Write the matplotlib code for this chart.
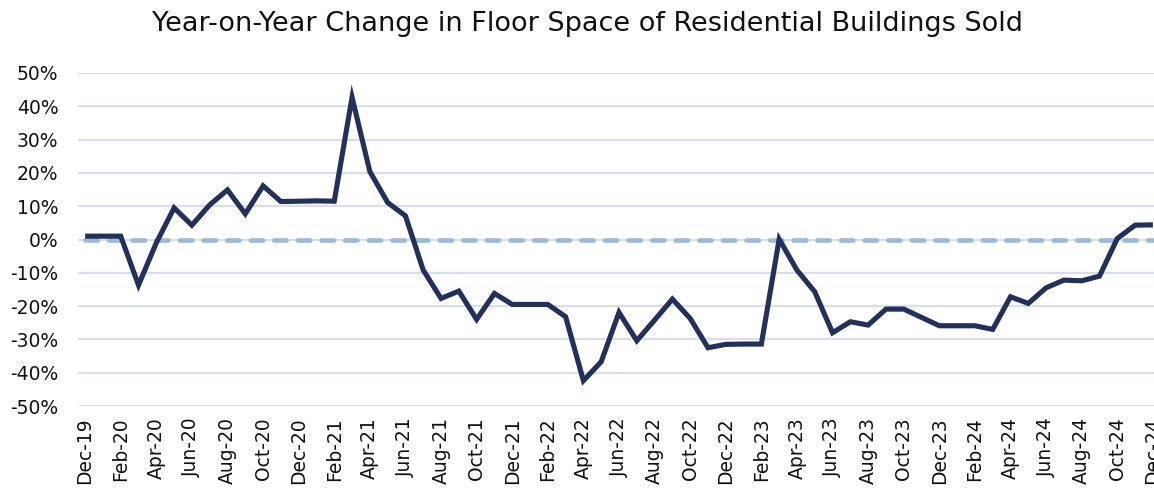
import matplotlib
matplotlib.use("Agg")
import matplotlib.pyplot as plt
import numpy as np

months = ["Dec-19",
          "Jan-20", "Feb-20", "Mar-20", "Apr-20", "May-20", "Jun-20", "Jul-20", "Aug-20", "Sep-20", "Oct-20", "Nov-20", "Dec-20",
          "Jan-21", "Feb-21", "Mar-21", "Apr-21", "May-21", "Jun-21", "Jul-21", "Aug-21", "Sep-21", "Oct-21", "Nov-21", "Dec-21",
          "Jan-22", "Feb-22", "Mar-22", "Apr-22", "May-22", "Jun-22", "Jul-22", "Aug-22", "Sep-22", "Oct-22", "Nov-22", "Dec-22",
          "Jan-23", "Feb-23", "Mar-23", "Apr-23", "May-23", "Jun-23", "Jul-23", "Aug-23", "Sep-23", "Oct-23", "Nov-23", "Dec-23",
          "Jan-24", "Feb-24", "Mar-24", "Apr-24", "May-24", "Jun-24", "Jul-24", "Aug-24", "Sep-24", "Oct-24", "Nov-24", "Dec-24"]

yoy_change = [1.0,
              1.0, 1.0, -13.7, -1.0, 9.5, 4.3, 10.4, 14.9, 7.7, 16.1, 11.4, 11.5,
              11.6, 11.5, 42.7, 20.4, 11.1, 7.1, -9.2, -17.7, -15.5, -24.0, -16.2, -19.5,
              -19.5, -19.5, -23.2, -42.4, -36.7, -21.9, -30.4, -24.2, -17.9, -23.7, -32.5, -31.5,
              -31.4, -31.4, 0.1, -9.2, -15.7, -28.0, -24.7, -25.7, -20.9, -20.9, -23.4, -25.9,
              -25.9, -25.9, -27.0, -17.2, -19.2, -14.5, -12.2, -12.4, -11.0, 0.3, 4.3, 4.4]

zero_line = [0.0] * len(months)
y_ticks = [50, 40, 30, 20, 10, 0, -10, -20, -30, -40, -50]

title = "Year-on-Year Change in Floor Space of Residential Buildings Sold"

plt.rcParams['font.family'] = ['DejaVu Sans']

fig = plt.figure(figsize=(11.54, 4.96), dpi=100)
W, H = 1154, 496
ax = fig.add_axes([78 / W, (H - 406) / H, (1160 - 78) / W, (406 - 73) / H])

x = np.arange(len(months))
ax.plot(x, zero_line, color="#9FBAD6", lw=3.4, dashes=(2.6, 2.4),
        dash_capstyle="round", zorder=2)
ax.plot(x, yoy_change, color="#22315C", lw=3.7, solid_joinstyle="miter",
        solid_capstyle="butt", zorder=3)

ax.set_xlim(-0.4, 60.4)
ax.set_ylim(-50, 50)
ax.set_yticks(y_ticks)
ax.set_yticklabels([f"{v}%" for v in y_ticks])
ax.set_xticks(x[::2])
ax.set_xticklabels(months[::2], rotation=90)
ax.tick_params(axis="both", length=0, labelsize=13.5, colors="#111111")
ax.tick_params(axis="y", pad=14)
ax.tick_params(axis="x", pad=8)
ax.grid(axis="y", color="#D6DEF0", lw=1.5, zorder=1)
ax.grid(axis="x", visible=False)
for s in ax.spines.values():
    s.set_visible(False)

fig.text(588 / W, 1 - 24 / H, title, ha="center", va="center", fontsize=19.5, color="#111111")

fig.savefig("out.png", dpi=100)
